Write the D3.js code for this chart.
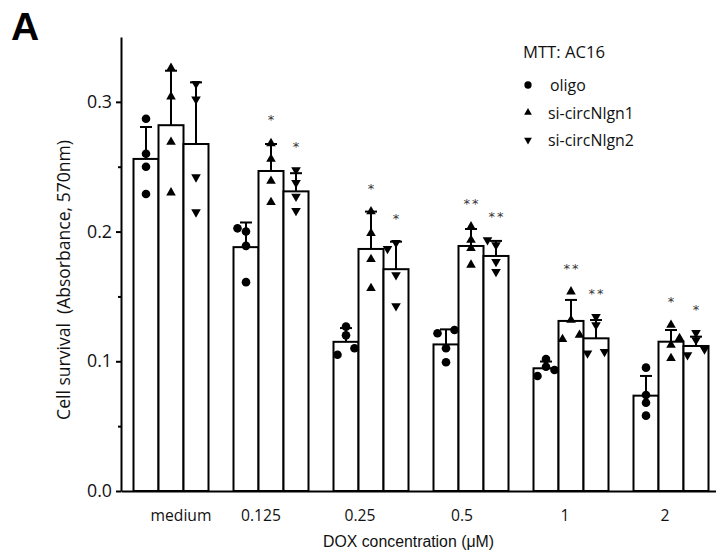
<!DOCTYPE html>
<html>
<head>
<meta charset="utf-8">
<script src="https://cdn.jsdelivr.net/npm/d3@7"></script>
<style>
body { margin: 0; background: #fff; }
svg { display: block; }
</style>
</head>
<body>
<svg id="chart"></svg>
<script>
const WIDTH = 716;
const HEIGHT = 553;

const categories = ['medium', '0.125', '0.25', '0.5', '1', '2'];
const seriesNames = ['oligo', 'si-circNlgn1', 'si-circNlgn2'];
const yTicks = [0, 0.1, 0.2, 0.3];
const yMinorTicks = [0.05, 0.15, 0.25];

// bar heights (mean) and upper error (SD)
const oligoMean = [0.256, 0.188, 0.115, 0.113, 0.0946, 0.0735];
const si1Mean = [0.282, 0.2467, 0.1866, 0.1889, 0.1311, 0.1151];
const si2Mean = [0.2675, 0.231, 0.171, 0.1812, 0.1177, 0.1118];
const oligoSD = [0.0246, 0.019, 0.0106, 0.0116, 0.0052, 0.0152];
const si1SD = [0.042, 0.0208, 0.0288, 0.0131, 0.0162, 0.009];
const si2SD = [0.0475, 0.014, 0.0212, 0.0116, 0.0141, 0.0072];

// single wells
const oligoPoints = [
	[0.287, 0.260, 0.250, 0.229],
	[0.2025, 0.200, 0.189, 0.161],
	[0.1267, 0.120, 0.110, 0.105],
	[0.1216, 0.1241, 0.110, 0.0992],
	[0.1017, 0.0958, 0.0933, 0.0887],
	[0.0951, 0.074, 0.0681, 0.0581]
];
const si1Points = [
	[0.326, 0.304, 0.269, 0.230],
	[0.268, 0.256, 0.239, 0.2226],
	[0.2154, 0.1987, 0.1786, 0.1563],
	[0.2038, 0.1935, 0.1871, 0.1743],
	[0.1537, 0.1318, 0.117, 0.1203],
	[0.128, 0.1126, 0.1177, 0.1023]
];
const si2Points = [
	[0.314, 0.302, 0.242, 0.215],
	[0.2475, 0.2377, 0.227, 0.216],
	[0.1868, 0.1914, 0.1665, 0.1426],
	[0.1935, 0.1897, 0.1768, 0.1691],
	[0.1344, 0.128, 0.1062, 0.1074],
	[0.122, 0.1164, 0.1049, 0.1093]
];
// horizontal scatter of the wells (-1 left, 0 centre, 1 right)
const oligoJitter = [[0,0,0,0],[-1,0,0,0],[0,0,1,-1],[-1,1,0,0],[0,0,1,-1],[0,0,0,0]];
const si1Jitter = [[0,0,0,0],[0,0,0,0],[0,0,0,0],[0,0,0,0],[0,0,-1,1],[0,0,1,0]];
const si2Jitter = [[0,0,0,0],[0,0,0,0],[-1,0,0,0],[-1,0,0,0],[0,0,-1,1],[0,0,-1,1]];

const oligoStars = ['', '', '', '', '', ''];
const si1Stars = ['', '*', '*', '**', '**', '*'];
const si2Stars = ['', '*', '*', '**', '**', '*'];

const series = [
	{name: seriesNames[0], mean: oligoMean, sd: oligoSD, points: oligoPoints, jitter: oligoJitter, stars: oligoStars, shape: 'circle'},
	{name: seriesNames[1], mean: si1Mean, sd: si1SD, points: si1Points, jitter: si1Jitter, stars: si1Stars, shape: 'up'},
	{name: seriesNames[2], mean: si2Mean, sd: si2SD, points: si2Points, jitter: si2Jitter, stars: si2Stars, shape: 'down'}
];

const FONT = '"Open Sans", sans-serif';
const ARIAL = '"Liberation Sans", Arial, sans-serif';
const tickNudge = [10, -10, -11, -9, -6, -6];

const svg = d3.select('#chart')
	.attr('width', WIDTH)
	.attr('height', HEIGHT);

// scale a text's font so that it is as wide as in the figure
const fitFont = (sel, base, width) => {
	sel.attr('font-size', base);
	const w = sel.node().getComputedTextLength();
	return w > 0 ? base * width / w : base;
};

const x0 = d3.scaleBand()
	.domain(categories)
	.range([121, 721])
	.paddingInner(0.25)
	.paddingOuter(0.125);
const x1 = d3.scaleBand()
	.domain(seriesNames)
	.range([0, x0.bandwidth()]);
const y = d3.scaleLinear()
	.domain([0, 0.35])
	.range([491, 37]);

const symbolPath = (shape, size) => {
	const type = shape === 'circle' ? d3.symbolCircle : d3.symbolTriangle;
	return d3.symbol().type(type).size(size)();
};

// one record per bar
const bars = [];
series.forEach((s) => {
	categories.forEach((c, i) => {
		bars.push({
			series: s.name, cat: c, shape: s.shape,
			mean: s.mean[i], sd: s.sd[i], stars: s.stars[i],
			points: s.points[i].map((v, k) => ({v, j: s.jitter[i][k]}))
		});
	});
});
const barX = d => x0(d.cat) + x1(d.series);
const barCx = d => barX(d) + x1.bandwidth() / 2;

// bars
svg.append('g')
	.selectAll('rect')
	.data(bars)
	.enter()
	.append('rect')
	.attr('x', d => barX(d))
	.attr('y', d => y(d.mean))
	.attr('width', x1.bandwidth())
	.attr('height', d => y(0) - y(d.mean))
	.attr('fill', 'white')
	.attr('stroke', 'black')
	.attr('stroke-width', 2);

// upper error bars
const err = svg.append('g')
	.attr('stroke', 'black')
	.attr('stroke-width', 2);
err.selectAll('.stem')
	.data(bars)
	.enter()
	.append('line')
	.attr('x1', d => barCx(d))
	.attr('x2', d => barCx(d))
	.attr('y1', d => y(d.mean))
	.attr('y2', d => y(d.mean + d.sd));
err.selectAll('.cap')
	.data(bars)
	.enter()
	.append('line')
	.attr('x1', d => barCx(d) - 6)
	.attr('x2', d => barCx(d) + 6)
	.attr('y1', d => y(d.mean + d.sd))
	.attr('y2', d => y(d.mean + d.sd));

// wells
bars.forEach((b) => {
	svg.append('g')
		.selectAll('path')
		.data(b.points)
		.enter()
		.append('path')
		.attr('d', symbolPath(b.shape, b.shape === 'circle' ? 58 : 40))
		.attr('transform', p => `translate(${barCx(b) + p.j * 8.5},${y(p.v)})` + (b.shape === 'down' ? ' rotate(180)' : ''))
		.attr('fill', 'black');
});

// significance stars
svg.append('g')
	.selectAll('text')
	.data(bars.filter(d => d.stars))
	.enter()
	.append('text')
	.attr('x', d => barCx(d) + 1)
	.attr('y', d => y(Math.max(d.mean + d.sd, d3.max(d.points, p => p.v))) - 19)
	.attr('text-anchor', 'middle')
	.attr('font-family', '"DejaVu Sans", sans-serif')
	.attr('font-size', 13)
	.attr('letter-spacing', 2)
	.attr('fill', '#333')
	.text(d => d.stars);

// y axis
const yAxis = svg.append('g')
	.attr('transform', 'translate(121,0)')
	.call(d3.axisLeft(y).tickValues(yTicks).tickFormat(d3.format('.1f')).tickSize(5).tickSizeOuter(0).tickPadding(4));
yAxis.select('.domain').attr('stroke-width', 2);
yAxis.selectAll('.tick line').attr('stroke-width', 2);
const yTickText = yAxis.selectAll('text')
	.attr('font-family', FONT)
	.attr('fill', '#111');
yTickText.attr('font-size', fitFont(yAxis.select('.tick:last-of-type text'), 15, 25));
svg.append('g')
	.attr('transform', 'translate(121,0)')
	.call(d3.axisLeft(y).tickValues(yMinorTicks).tickFormat('').tickSize(3).tickSizeOuter(0))
	.call(g => g.select('.domain').remove())
	.selectAll('.tick line').attr('stroke-width', 2);

// x axis
const xAxis = svg.append('g')
	.attr('transform', 'translate(0,491)')
	.call(d3.axisBottom(x0).tickSize(0).tickSizeOuter(0).tickPadding(0));
xAxis.select('.domain').attr('stroke-width', 2);
const xTickText = xAxis.selectAll('text')
	.attr('font-family', FONT)
	.attr('fill', '#111')
	.attr('dy', null)
	.attr('dx', (d, i) => tickNudge[i]);
xTickText.attr('font-size', fitFont(xAxis.select('.tick text'), 15, 61)).attr('y', 29.5);

// axis titles
const yTitle = svg.append('text')
	.attr('transform', 'translate(70,280) rotate(-90)')
	.attr('text-anchor', 'middle')
	.attr('font-family', FONT)
	.attr('fill', '#111')
	.text('Cell survival\u00a0 (Absorbance, 570nm)');
yTitle.attr('font-size', fitFont(yTitle, 15, 280));

const xTitle = svg.append('text')
	.attr('x', 408.5)
	.attr('y', 547)
	.attr('text-anchor', 'middle')
	.attr('font-family', ARIAL)
	.attr('fill', '#111')
	.text('DOX concentration (\u03bcM)');
xTitle.attr('font-size', fitFont(xTitle, 15, 171));

// panel letter
svg.append('text')
	.attr('x', 11)
	.attr('y', 40)
	.attr('font-family', ARIAL)
	.attr('font-weight', 'bold')
	.attr('font-size', 39)
	.text('A');

// legend
const legend = svg.append('g').attr('transform', 'translate(523,0)');
const legendTitle = legend.append('text')
	.attr('x', 0)
	.attr('y', 58)
	.attr('font-family', FONT)
	.attr('fill', '#111')
	.text('MTT: AC16');
legendTitle.attr('font-size', fitFont(legendTitle, 15, 82));
const rows = legend.selectAll('.row')
	.data(series)
	.enter()
	.append('g')
	.attr('transform', (d, i) => `translate(0,${85 + i * 27.5})`);
rows.append('path')
	.attr('d', d => symbolPath(d.shape, d.shape === 'circle' ? 42 : 26))
	.attr('transform', d => 'translate(5,0)' + (d.shape === 'down' ? ' rotate(180)' : ''))
	.attr('fill', 'black');
const rowText = rows.append('text')
	.attr('x', (d, i) => i === 0 ? 27 : 25)
	.attr('y', 6)
	.attr('font-family', FONT)
	.attr('fill', '#111')
	.text(d => d.name);
rowText.attr('font-size', fitFont(d3.select(rowText.nodes()[1]), 15, 86));
</script>
</body>
</html>
